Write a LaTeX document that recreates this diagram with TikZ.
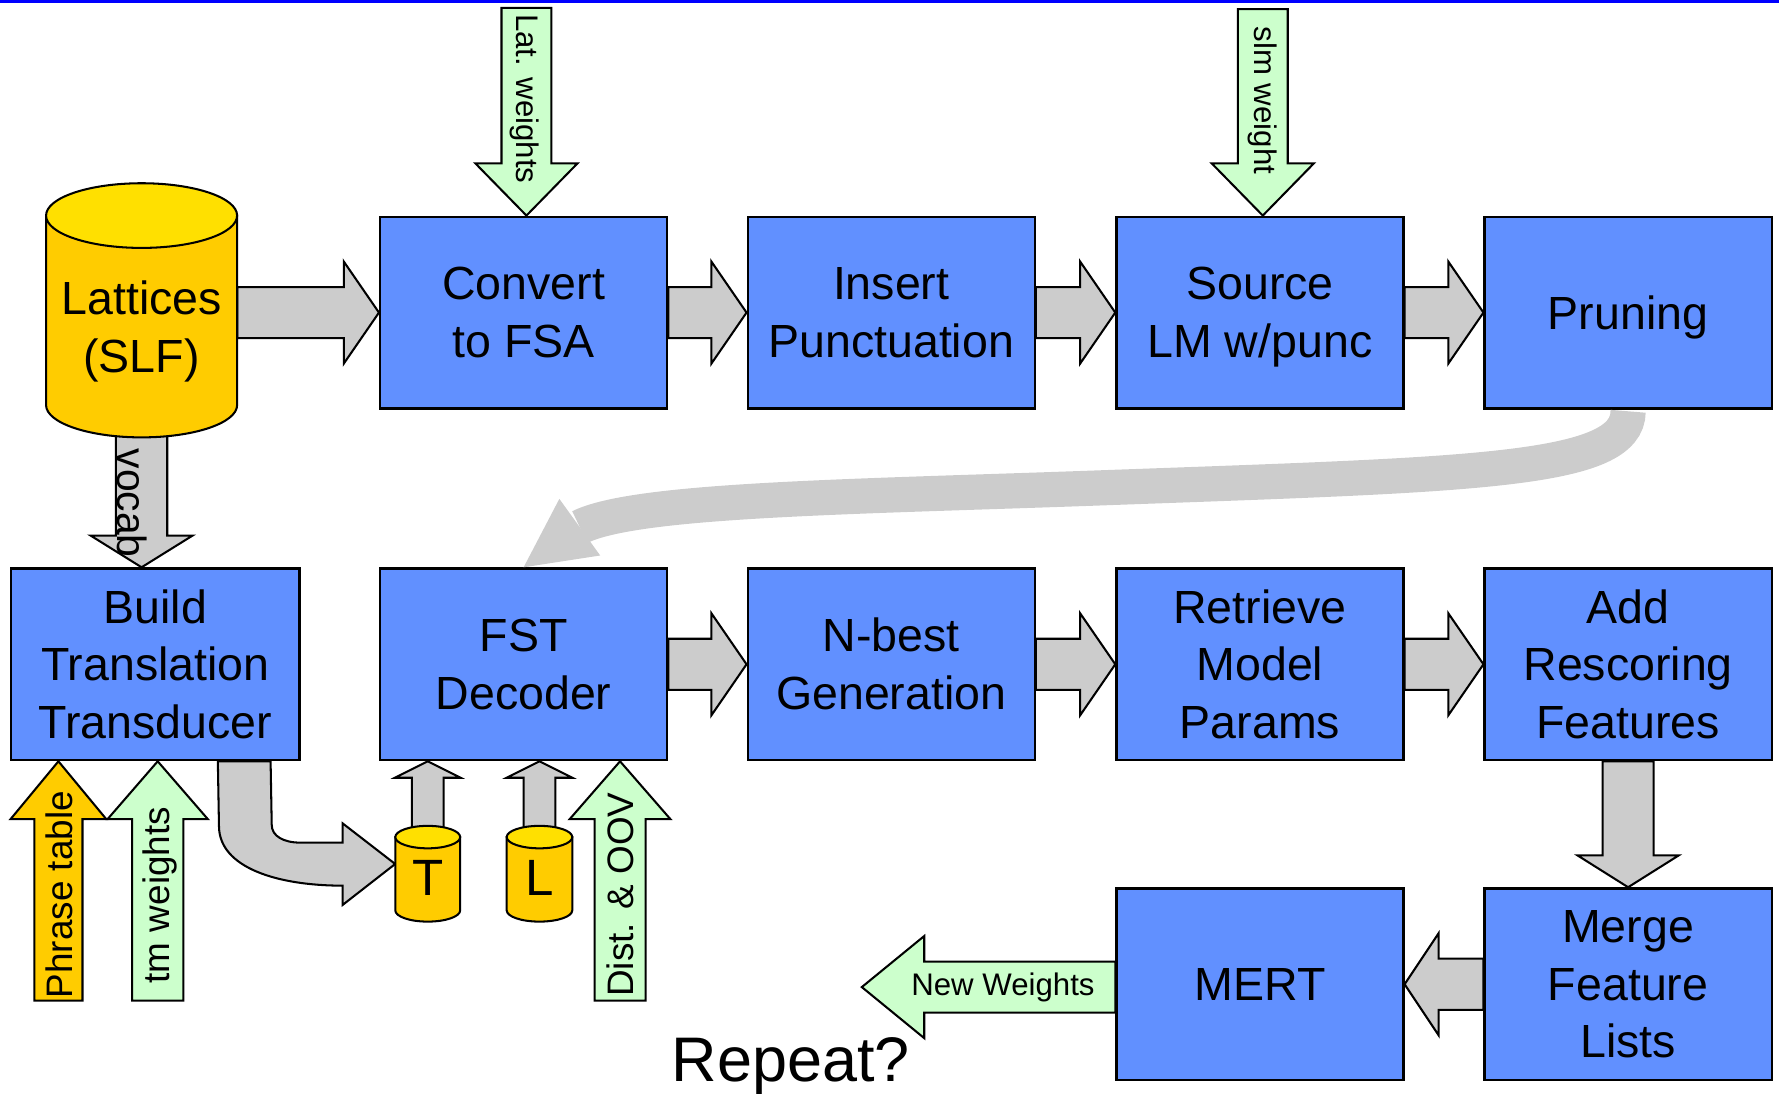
\documentclass[tikz,border=0pt]{standalone}
\usepackage{fontspec}
\setmainfont{Liberation Sans}
\usetikzlibrary{calc}
\definecolor{boxblue}{HTML}{6190FF}
\definecolor{arrgray}{HTML}{CCCCCC}
\definecolor{arrgreen}{HTML}{CCFFCC}
\definecolor{cylbodyc}{HTML}{FFCC00}
\definecolor{cyltopc}{HTML}{FFE000}
% block arrow: #1 style, #2 from, #3 tip, #4 shaft half width, #5 head half width, #6 head length
\newcommand{\BArrow}[6]{%
  \path ($(#3)!#6!(#2)$) coordinate (baq);
  \draw[#1] ($(#2)!#4!90:(#3)$) -- ($(baq)!#4!90:(#3)$) -- ($(baq)!#5!90:(#3)$) -- (#3)
    -- ($(baq)!#5!-90:(#3)$) -- ($(baq)!#4!-90:(#3)$) -- ($(#2)!#4!-90:(#3)$) -- cycle;}
% cylinder: #1 cx, #2 top ellipse y, #3 bottom ellipse y, #4 rx, #5 ry
\newcommand{\Cyl}[5]{%
  \filldraw[cylbody] (#1-#4,#2) -- (#1-#4,#3) arc[start angle=180,end angle=360,x radius=#4pt,y radius=#5pt] -- (#1+#4,#2) -- cycle;
  \filldraw[cyltop] (#1,#2) ellipse[x radius=#4pt,y radius=#5pt];}
\begin{document}
\begin{tikzpicture}[x=1pt,y=-1pt,
  procbox/.style={draw, line width=2pt, fill=boxblue, minimum width=253pt, minimum height=169pt,
     inner sep=0pt, align=center, font=\fontsize{41}{51}\selectfont},
  grayarrow/.style={draw, line width=1.8pt, fill=arrgray},
  greenarrow/.style={draw, line width=1.8pt, fill=arrgreen},
  yellowarrow/.style={draw, line width=1.8pt, fill=cylbodyc},
  cylbody/.style={draw, line width=1.8pt, fill=cylbodyc},
  cyltop/.style={draw, line width=1.8pt, fill=cyltopc},
  lbl/.style={inner sep=0pt, font=\fontsize{27.5}{30}\selectfont},
  lblb/.style={inner sep=0pt, font=\fontsize{32.5}{36}\selectfont},
  bigl/.style={inner sep=0pt, align=center, font=\fontsize{41}{51}\selectfont},
  anchorbox/.style={inner sep=0pt}]
\useasboundingbox (0,0) rectangle (1568,964);
\fill[blue] (0,0) rectangle (1568,2.3);

% anchor nodes for the cylinders
\node[anchorbox, minimum width=168.4pt, minimum height=223.6pt] (lat) at (124.8,273.6) {};
\node[anchorbox, minimum width=57pt, minimum height=84.7pt] (T) at (377,770) {};
\node[anchorbox, minimum width=57pt, minimum height=84.7pt] (L) at (475.5,770) {};

% process boxes
\node[procbox] (Convert)  at (461.5,275.5) {Convert\\to FSA};
\node[procbox] (Insert)   at (785.5,275.5) {Insert\\Punctuation};
\node[procbox] (Source)   at (1110.5,275.5) {Source\\\smash{LM w/punc}};
\node[procbox] (Pruning)  at (1435,275.5) {\raisebox{0pt}[\height][0pt]{Pruning}};
\node[procbox, minimum width=254pt] (Build) at (137,585.5) {Build\\Translation\\Transducer};
\node[procbox] (FST)      at (461.5,585.5) {FST\\Decoder};
\node[procbox] (Nbest)    at (785.5,585.5) {N-best\\Generation};
\node[procbox] (Retrieve) at (1110.5,585.5) {Retrieve\\Model\\Params};
\node[procbox] (Add)      at (1435,585.5) {Add\\Rescoring\\Features};
\node[procbox] (MERT)     at (1110.5,867.5) {MERT};
\node[procbox] (Merge)    at (1435,867.5) {Merge\\Feature\\Lists};

% helper coordinates
\coordinate (latE) at (lat.east |- Convert.west);
\coordinate (vocT) at (lat.center |- Build.north);
\coordinate (latwS) at ($(Convert.north)+(2.5,-183)$);
\coordinate (latwT) at ($(Convert.north)+(2.5,0)$);
\coordinate (slmS) at ($(Source.north)+(2.5,-182)$);
\coordinate (slmT) at ($(Source.north)+(2.5,0)$);
\coordinate (phT) at ($(Build.south west)+(42.5,0)$);
\coordinate (phS) at ($(Build.south west)+(42.5,211)$);
\coordinate (tmT) at ($(Build.south west)+(130,0)$);
\coordinate (tmS) at ($(Build.south west)+(130,211)$);
\coordinate (doT) at ($(FST.south west)+(212.5,0)$);
\coordinate (doS) at ($(FST.south west)+(212.5,211)$);
\coordinate (TS) at ($(T.north)+(0,10)$);
\coordinate (TT) at (T.north |- FST.south);
\coordinate (LS) at ($(L.north)+(0,10)$);
\coordinate (LT) at (L.north |- FST.south);
\coordinate (nwT) at ($(MERT.west)+(-223.4,2.5)$);
\coordinate (nwS) at ($(MERT.west)+(0,2.5)$);
\coordinate (fstHB) at ($(FST.north)+(49.5,-35.4)$);
\coordinate (bt1) at ($(Build.south west)+(183,0)$);
\coordinate (bt2) at ($(Build.south west)+(229.5,0)$);
\coordinate (Ttip) at ($(T.west)+(0,-8.5)$);

% straight block arrows
\BArrow{grayarrow}{latE}{Convert.west}{22.5pt}{45pt}{31pt}
\BArrow{grayarrow}{Convert.east}{Insert.west}{22.5pt}{45pt}{31pt}
\BArrow{grayarrow}{Insert.east}{Source.west}{22.5pt}{45pt}{31pt}
\BArrow{grayarrow}{Source.east}{Pruning.west}{22.5pt}{45pt}{31pt}
\BArrow{grayarrow}{FST.east}{Nbest.west}{22.5pt}{45pt}{31pt}
\BArrow{grayarrow}{Nbest.east}{Retrieve.west}{22.5pt}{45pt}{31pt}
\BArrow{grayarrow}{Retrieve.east}{Add.west}{22.5pt}{45pt}{31pt}
\BArrow{grayarrow}{Add.south}{Merge.north}{22.5pt}{44.5pt}{28pt}
\BArrow{grayarrow}{Merge.west}{MERT.east}{22.5pt}{45pt}{30pt}
\BArrow{greenarrow}{nwS}{nwT}{22.5pt}{45pt}{55pt}
\BArrow{grayarrow}{lat.center}{vocT}{22.6pt}{45pt}{28pt}
\BArrow{greenarrow}{latwS}{latwT}{22pt}{45pt}{46pt}
\BArrow{greenarrow}{slmS}{slmT}{22pt}{45pt}{46pt}
\BArrow{yellowarrow}{phS}{phT}{21.2pt}{42.2pt}{51pt}
\BArrow{greenarrow}{tmS}{tmT}{22.6pt}{44.2pt}{51pt}
\BArrow{greenarrow}{doS}{doT}{22.5pt}{44.4pt}{51pt}
\BArrow{grayarrow}{TS}{TT}{14pt}{29pt}{14.5pt}
\BArrow{grayarrow}{LS}{LT}{14pt}{29pt}{14.5pt}

% curved arrow Pruning -> FST
\draw[line width=31pt, arrgray] ($(Pruning.south)+(0,1.5)$) .. controls ($(Pruning.south)+(0,55)$) and (1300,418) .. (970,430)
   .. controls (750,438) and (560,440) .. (fstHB);
\fill[arrgray] (FST.north) -- ($(FST.north)+(31.5,-60.3)$) -- ($(FST.north)+(67.5,-10.4)$) -- cycle;

% curved arrow Build -> T
\draw[grayarrow] (bt1) -- (193,728) .. controls (193,765) and (245,780.6) .. (302,780.6)
   -- (302,797.6) -- (Ttip) -- (302,725.7) -- (302,742.7) -- (265,742.7)
   .. controls (250,742.7) and (239.5,737) .. (239.5,727) -- (bt2) -- cycle;

% cylinders
\Cyl{124.8}{190}{357}{84.2}{28.5}
\Cyl{377}{737.8}{802.4}{28.6}{9.9}
\Cyl{475.5}{737.8}{802.4}{28.9}{9.9}
\node[bigl] (latl) at (124.8,292.5) {Lattices\\(SLF)};
\node[inner sep=0pt, font=\fontsize{45}{50}\selectfont] (Tl) at (377,774) {T};
\node[inner sep=0pt, font=\fontsize{45}{50}\selectfont] (Ll) at (475.5,774) {L};

% labels
\node[lbl, rotate=-90] (latwl) at (462.6,87) {Lat. weights};
\node[lbl, rotate=-90] (slml) at (1112.7,88.5) {slm weight};
\node[inner sep=0pt, rotate=-90, font=\fontsize{36}{40}\selectfont] (vocl) at (116,443.5) {vocab};
\node[lblb, rotate=90] (phl) at (52,788.6) {Phrase table};
\node[lblb, rotate=90] (tml) at (141,789) {tm weights};
\node[lblb, rotate=90] (dol) at (547,788.5) {Dist. \& OOV};
\node[lbl] (nwl) at (884,870) {New Weights};
\node[inner sep=0pt, anchor=base, font=\fontsize{55.5}{60}\selectfont] (rep) at (697,953) {Repeat?};
\end{tikzpicture}
\end{document}
